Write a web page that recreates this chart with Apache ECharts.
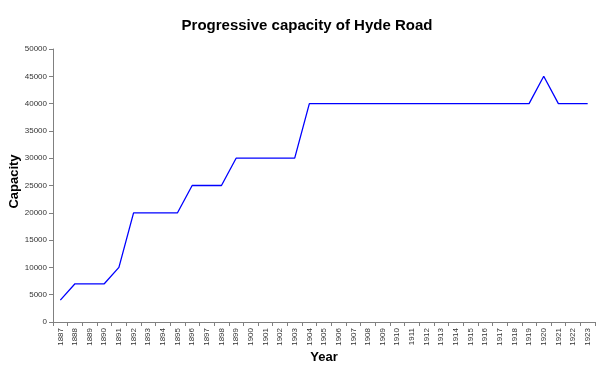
<!DOCTYPE html>
<html><head><meta charset="utf-8">
<script src="https://cdn.jsdelivr.net/npm/echarts@6/dist/echarts.min.js"></script>
<style>html,body{margin:0;padding:0;background:#fff}#c{width:600px;height:367px}</style>
</head><body><div id="c"></div>
<script>
var years = ['1887','1888','1889','1890','1891','1892','1893','1894','1895','1896','1897','1898','1899','1900','1901','1902','1903','1904','1905','1906','1907','1908','1909','1910','1911','1912','1913','1914','1915','1916','1917','1918','1919','1920','1921','1922','1923'];
var capacity = [4000,7000,7000,7000,10000,20000,20000,20000,20000,25000,25000,25000,30000,30000,30000,30000,30000,40000,40000,40000,40000,40000,40000,40000,40000,40000,40000,40000,40000,40000,40000,40000,40000,45000,40000,40000,40000];
var chart = echarts.init(document.getElementById('c'), null, {renderer:'canvas'});
chart.setOption({
  animation:false,
  backgroundColor:'#fff',
  title:{text:'Progressive capacity of Hyde Road',left:302,top:13,textAlign:'center',
    textStyle:{fontFamily:'Liberation Sans, Arial',fontSize:15,fontWeight:'bold',color:'#000'}},
  grid:{left:53,right:5,top:49,bottom:45,containLabel:false,outerBoundsMode:'none'},
  xAxis:{type:'category',data:years,boundaryGap:true,
    name:'Year',nameLocation:'middle',nameGap:29,nameMoveOverlap:false,
    nameTextStyle:{fontFamily:'Liberation Sans, Arial',fontSize:13,fontWeight:'bold',color:'#000'},
    axisLine:{lineStyle:{color:'#808080',width:1}},
    axisTick:{show:true,alignWithLabel:false,length:4,lineStyle:{color:'#808080'}},
    axisLabel:{rotate:90,interval:0,fontFamily:'Liberation Sans, Arial',fontSize:8,color:'#333',margin:6},
    splitLine:{show:false}},
  yAxis:{type:'value',min:0,max:50000,interval:5000,
    name:'Capacity',nameLocation:'middle',nameGap:32,nameRotate:90,nameMoveOverlap:false,
    nameTextStyle:{fontFamily:'Liberation Sans, Arial',fontSize:13,fontWeight:'bold',color:'#000',padding:[0,0,0,8]},
    axisLine:{show:true,lineStyle:{color:'#808080',width:1}},
    axisTick:{show:true,length:4,lineStyle:{color:'#808080'}},
    axisLabel:{fontFamily:'Liberation Sans, Arial',fontSize:8,color:'#333',margin:6,formatter:function(v){return String(v);}},
    splitLine:{show:false}},
  series:[{type:'line',data:capacity,symbol:'none',lineStyle:{color:'#0000ff',width:1.3}}]
});
</script></body></html>
